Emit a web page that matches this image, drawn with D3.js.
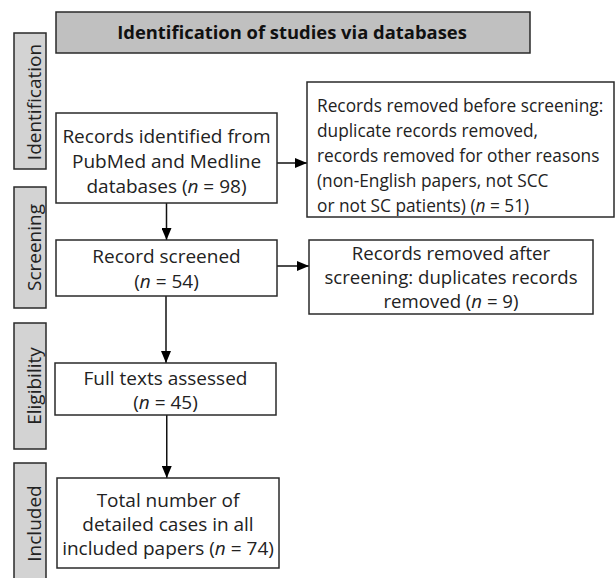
<!DOCTYPE html>
<html><head><meta charset="utf-8">
<script src="https://d3js.org/d3.v7.min.js"></script>
<style>body{margin:0;background:#fff}svg{display:block}</style>
</head><body><svg id="c" width="616" height="578"></svg>
<script>
const title = "Identification of studies via databases";
const phases = ["Identification", "Screening", "Eligibility", "Included"];
const mainLabels = [
  ["Records identified from", "PubMed and Medline", "databases ({n} = 98)"],
  ["Record screened", "({n} = 54)"],
  ["Full texts assessed", "({n} = 45)"],
  ["Total number of", "detailed cases in all", "included papers ({n} = 74)"]
];
const sideLabels = [
  ["Records removed before screening:", "duplicate records removed,", "records removed for other reasons", "(non-English papers, not SCC", "or not SC patients) ({n} = 51)"],
  ["Records removed after", "screening: duplicates records", "removed ({n} = 9)"]
];
const counts = [98, 54, 45, 74];
const removed = [51, 9];

const svg = d3.select("#c");
const FONT = "'Open Sans', sans-serif";
const stroke = "#2a2a2a";

svg.append("defs").append("marker").attr("id","ah").attr("viewBox","0 0 12 10")
  .attr("refX",12).attr("refY",5).attr("markerWidth",12).attr("markerHeight",10)
  .attr("markerUnits","userSpaceOnUse").attr("orient","auto")
  .append("path").attr("d","M0,0L12,5L0,10Z").attr("fill","#000");

// layout
const phaseBoxes = [{x:14,y:33,w:32,h:136,c:102},{x:14,y:187,w:32,h:121,c:247.5},{x:14,y:323,w:32,h:126,c:386},{x:14,y:463,w:32,h:120,c:523.5}];
const mainBoxes = [{x:56,y:113,w:221,h:90,lh:25,off:2.5},{x:56,y:240,w:221,h:56,lh:25,off:0},{x:55,y:363,w:221,h:52,lh:24,off:0},{x:57,y:478,w:222,h:90,lh:24,off:0}];
const sideBoxes = [{x:307,y:82,w:307,h:135,align:"start",lh:25,fs:17.3,off:5.5},{x:309,y:240,w:284,h:74,align:"middle",lh:24,fs:18.6,off:0}];

function writeLines(g, lines, cx, cy, lh, anchor, x0, fs) {
  const n = lines.length;
  lines.forEach((ln,i) => {
    const y = cy + (i-(n-1)/2)*lh;
    const t = g.append("text").attr("font-family",FONT).attr("font-size",fs).attr("fill","#222")
      .attr("text-anchor",anchor).attr("x", anchor==="start"?x0:cx).attr("y", y).attr("dy","0.4em");
    const parts = ln.split("{n}");
    parts.forEach((p,j) => {
      t.append("tspan").text(p);
      if (j<parts.length-1) t.append("tspan").attr("font-style","italic").text("n");
    });
  });
}

// title
svg.append("rect").attr("x",56).attr("y",12).attr("width",474).attr("height",41)
  .attr("fill","#c0c0c0").attr("stroke",stroke).attr("stroke-width",1.5);
svg.append("text").attr("x",292).attr("y",32.5).attr("dy","0.35em").attr("text-anchor","middle")
  .attr("font-family",FONT).attr("font-weight","bold").attr("font-size",18.4).attr("fill","#111").text(title);

// phases
phases.forEach((p,i) => {
  const b = phaseBoxes[i];
  svg.append("rect").attr("x",b.x).attr("y",b.y).attr("width",b.w).attr("height",b.h)
    .attr("fill","#d3d3d3").attr("stroke",stroke).attr("stroke-width",1.5);
  const cx = b.x+b.w/2;
  svg.append("text").attr("transform",`translate(${cx},${b.c}) rotate(-90)`).attr("dy",11)
    .attr("text-anchor","middle").attr("font-family",FONT).attr("font-size",19).attr("fill","#222").text(p);
});

// arrows
const arrows = [];
for (let i=0;i<3;i++) {
  const a = mainBoxes[i], b = mainBoxes[i+1];
  const x = (a.x+a.w/2 + b.x+b.w/2)/2;
  arrows.push([x, a.y+a.h, x, b.y]);
}
arrows.push([277, 163, 307, 163]);
arrows.push([277, 266, 309, 266]);
arrows.forEach(a => svg.append("line").attr("x1",a[0]).attr("y1",a[1]).attr("x2",a[2]).attr("y2",a[3])
  .attr("stroke","#111").attr("stroke-width",1.5).attr("marker-end","url(#ah)"));

// main boxes
mainBoxes.forEach((b,i) => {
  const g = svg.append("g");
  g.append("rect").attr("x",b.x).attr("y",b.y).attr("width",b.w).attr("height",b.h)
    .attr("fill","#fff").attr("stroke",stroke).attr("stroke-width",1.5);
  writeLines(g, mainLabels[i].map(s=>s.replace(/= \d+/, "= "+counts[i])), b.x+b.w/2, b.y+b.h/2+b.off, b.lh, "middle", 0, 19);
});
sideBoxes.forEach((b,i) => {
  const g = svg.append("g");
  g.append("rect").attr("x",b.x).attr("y",b.y).attr("width",b.w).attr("height",b.h)
    .attr("fill","#fff").attr("stroke",stroke).attr("stroke-width",1.5);
  writeLines(g, sideLabels[i].map(s=>s.replace(/= \d+/, "= "+removed[i])), b.x+b.w/2, b.y+b.h/2+b.off, b.lh, b.align, b.x+10, b.fs);
});
</script></body></html>
